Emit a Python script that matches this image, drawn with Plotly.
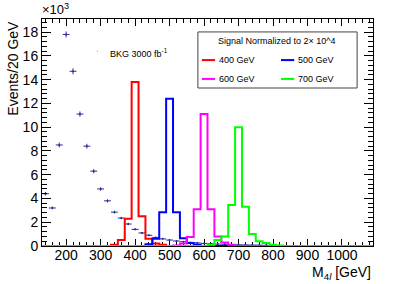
import plotly.graph_objects as go

# background, 20 GeV bins, events in units of 10^3
bkg_x = [140, 160, 180, 200, 220, 240, 260, 280, 300, 320, 340, 360, 380, 400,
         420, 440, 460, 480, 500, 520, 540, 560, 580, 600, 620, 640, 660, 680,
         700, 720, 740, 760, 780, 800]
bkg_y = [4.4, 3.2, 8.5, 17.8, 14.7, 11.1, 8.4, 6.3, 4.8, 3.8, 2.85, 2.35, 1.85, 1.4,
         1.1, 0.9, 0.72, 0.6, 0.5, 0.42, 0.36, 0.3, 0.26, 0.22, 0.19, 0.16, 0.14, 0.12,
         0.1, 0.09, 0.08, 0.07, 0.06, 0.05]
bkg_err = [0.15, 0.12, 0.2, 0.25, 0.25, 0.22, 0.2, 0.17, 0.15, 0.13, 0.12, 0.1, 0.1, 0.08,
           0.07, 0.06, 0.05, 0.05, 0.05, 0.04, 0.04, 0.03, 0.03, 0.03, 0.03, 0.02, 0.02, 0.02,
           0.02, 0.02, 0.02, 0.02, 0.02, 0.02]

# signal histograms (bin centers / content, x10^3)
sig400_x = [340, 360, 380, 400, 420, 440, 460, 480]
sig400_y = [0.1, 0.5, 2.3, 13.8, 2.5, 0.6, 0.2, 0.1]
sig500_x = [440, 460, 480, 500, 520, 540, 560, 580]
sig500_y = [0.15, 0.6, 2.85, 12.4, 2.85, 0.65, 0.25, 0.1]
sig600_x = [520, 540, 560, 580, 600, 620, 640, 660, 680]
sig600_y = [0.05, 0.2, 0.75, 3.1, 11.1, 3.1, 0.8, 0.3, 0.1]
sig700_x = [620, 640, 660, 680, 700, 720, 740, 760, 780, 800, 820]
sig700_y = [0.1, 0.5, 0.8, 3.45, 10.0, 3.3, 1.0, 0.4, 0.25, 0.1, 0.05]

y_ticks = [0, 2, 4, 6, 8, 10, 12, 14, 16, 18]
y_ticktext = ["0", "2", "4", "6", "8", "10", "12", "14", "16", "18"]

XMIN, XMAX, BW = 130, 1090, 20
edges = list(range(XMIN, XMAX + BW, BW))


def step_arrays(cx, cy):
    vals = [0.0] * (len(edges) - 1)
    for c, v in zip(cx, cy):
        vals[(c - XMIN) // BW] = v
    return edges, vals + [vals[-1]]


fig = go.Figure()

fig.add_trace(go.Scatter(
    x=bkg_x, y=bkg_y, mode="markers",
    marker=dict(size=2, color="#2b2b9c"),
    error_x=dict(type="constant", value=BW / 2, width=0, thickness=1, color="#2b2b9c"),
    error_y=dict(type="data", array=bkg_err, width=0, thickness=1, color="#2b2b9c"),
    showlegend=False,
))

signals = [(sig400_x, sig400_y, "#ff0000"), (sig500_x, sig500_y, "#0000ff"),
           (sig600_x, sig600_y, "#ff00ff"), (sig700_x, sig700_y, "#00ff00")]
for sx, sy, col in signals:
    ex, ey = step_arrays(sx, sy)
    fig.add_trace(go.Scatter(x=ex, y=ey, mode="lines", line=dict(color=col, width=2, shape="hv"),
                             showlegend=False))

font = dict(family="Liberation Sans, Arial, sans-serif", color="black")

fig.update_layout(
    width=415, height=284,
    margin=dict(l=42, r=42, t=19, b=38),
    paper_bgcolor="white", plot_bgcolor="white",
    font=dict(size=14, **font),
    showlegend=False,
)
fig.update_xaxes(
    range=[XMIN, XMAX], dtick=100, tick0=0, ticks="inside", ticklen=7, tickcolor="black",
    showline=True, linecolor="black", mirror="allticks", showgrid=False, zeroline=False,
    minor=dict(ticks="inside", ticklen=4, dtick=20, tick0=0, tickcolor="black", showgrid=False),
    tickfont=dict(size=14), layer="below traces", ticklabelstandoff=-4,
)
fig.update_yaxes(
    range=[0, 19.1], tickvals=y_ticks, ticktext=y_ticktext, ticks="inside", ticklen=9,
    tickcolor="black", showline=True, linecolor="black", mirror="allticks", showgrid=False,
    zeroline=False,
    minor=dict(ticks="inside", ticklen=5, dtick=0.4, tick0=0, tickcolor="black", showgrid=False),
    tickfont=dict(size=14),
)

# axis titles and exponent
fig.add_annotation(text="Events/20 GeV", textangle=-90, xref="paper", yref="paper",
                   x=-0.09, y=1.0, xanchor="center", yanchor="top", showarrow=False,
                   font=dict(size=14))
fig.add_annotation(text="M<sub>4<i>l</i></sub> [GeV]", xref="paper", yref="paper",
                   x=1.0, y=-0.118, xanchor="right", yanchor="middle", showarrow=False,
                   font=dict(size=14))
fig.add_annotation(text="×10<sup>3</sup>", xref="paper", yref="paper",
                   x=-0.005, y=1.0, xanchor="left", yanchor="bottom", showarrow=False,
                   font=dict(size=13))

# background label
fig.add_annotation(text="BKG 3000 fb<sup>-1</sup>", xref="paper", yref="paper",
                   x=0.199, y=0.85, xanchor="left", yanchor="middle", showarrow=False,
                   font=dict(size=9))
fig.add_shape(type="line", xref="paper", yref="paper", x0=0.166, x1=0.169, y0=0.858, y1=0.858,
              line=dict(color="#9090c0", width=1))

# signal legend box
fig.add_shape(type="rect", xref="paper", yref="paper", x0=0.471, x1=0.952, y0=0.696, y1=0.943,
              line=dict(color="#444444", width=1), fillcolor="white")
fig.add_annotation(text="Signal Normalized to 2× 10^4", xref="paper", yref="paper",
                   x=0.71, y=0.905, xanchor="center", yanchor="middle", showarrow=False,
                   font=dict(size=9))
legend_items = [("400 GeV", "#ff0000", 0.483, 0.819), ("500 GeV", "#0000ff", 0.722, 0.819),
                ("600 GeV", "#ff00ff", 0.483, 0.736), ("700 GeV", "#00ff00", 0.722, 0.736)]
for label, col, lx, ly in legend_items:
    fig.add_shape(type="line", xref="paper", yref="paper", x0=lx, x1=lx + 0.04, y0=ly, y1=ly,
                  line=dict(color=col, width=2))
    fig.add_annotation(text=label, xref="paper", yref="paper", x=lx + 0.045, y=ly,
                       xanchor="left", yanchor="middle", showarrow=False, font=dict(size=9))

# drop the default page margin so the figure sits at the window's corner
fig.write_html("out.html", config={"displayModeBar": False},
               post_script="document.body.style.margin='0';")
